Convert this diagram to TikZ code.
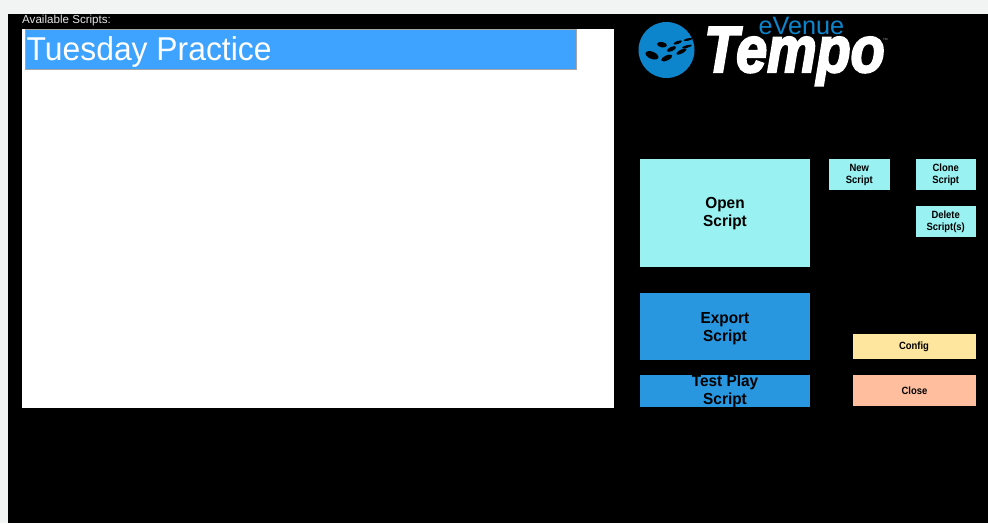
\documentclass[tikz,border=0pt]{standalone}
\usepackage{fontspec}
\setmainfont{Liberation Sans}
\newfontfamily\btnfont[FakeStretch=0.96]{Liberation Sans}
\newfontfamily\smallfont[FakeStretch=0.9]{Liberation Sans}
\newfontfamily\tuefont[FakeStretch=0.965]{Liberation Sans}
\newfontfamily\tempofont[BoldItalicFeatures={FakeBold=3.5}]{Liberation Sans}
\begin{document}
\begin{tikzpicture}[x=1pt,y=-1pt,
  box/.style={anchor=north west,inner sep=0pt,outer sep=0pt},
  bigt/.style={inner sep=0pt,align=center,text=black,font=\btnfont\fontsize{16}{18}\selectfont\bfseries},
  smallt/.style={inner sep=0pt,align=center,text=black,font=\smallfont\fontsize{10.5}{12}\selectfont\bfseries}]
\definecolor{aqua}{HTML}{99F1F1}
\definecolor{blueb}{HTML}{2997E0}
\definecolor{selb}{HTML}{3EA2FF}
\definecolor{yel}{HTML}{FFE69E}
\definecolor{sal}{HTML}{FFBF9F}
\definecolor{logob}{HTML}{0C85CC}
\definecolor{band}{HTML}{F2F4F4}
\useasboundingbox (0,0) rectangle (988,523);
\fill[white] (0,0) rectangle (988,523);
\fill[black] (8,0) rectangle (988,523);
\node[anchor=base west,inner sep=0pt,text=white!90!black,font=\fontsize{11.6}{14}\selectfont] (lbl) at (22,23) {Available Scripts:};
\fill[band] (0,0) rectangle (988,14);
\fill[band] (0,0) rectangle (8,523);
\node[box,fill=white,minimum width=592pt,minimum height=379pt] (list) at (22,29) {};
\node[box,fill=selb,draw=gray!70,line width=.4pt,minimum width=551.5pt,minimum height=40pt] (sel) at (25,29.5) {};
\node[anchor=base west,inner sep=0pt,text=white,font=\tuefont\fontsize{33}{36}\selectfont] (tue) at (26.5,60) {Tuesday Practice};
% logo
\node[circle,fill=logob,inner sep=0pt,minimum size=56pt] (disc) at (666.5,50) {};
\begin{scope}
\clip (disc.center) circle (28);
\foreach \cx/\cy/\a/\b/\r in {652/55.3/6.8/3.6/-22, 662/44.7/5/2.7/-10, 666.7/58/6/2.5/25, 671.5/49/5/2.1/25, 681.5/51.5/5.8/1.9/28, 677.7/42.5/4.5/1.5/20, 687/46.5/5/1.3/15, 688/39.5/4.5/1.2/12}
  \fill[black] (\cx,\cy) ellipse[x radius=\a,y radius=\b,rotate=\r];
\end{scope}
\node[anchor=base west,inner sep=0pt,text=white,font=\tempofont\fontsize{58}{60}\selectfont\bfseries\itshape] (tempo) at (704,72) {\scalebox{.96}[1.12]{Tempo}};
\node[anchor=base west,inner sep=0pt,text=logob,font=\fontsize{25.2}{26}\selectfont] (evenue) at (758.5,34) {eVenue};
\node[anchor=west,inner sep=0pt,text=white!70!black,font=\fontsize{3}{4}\selectfont] (tm) at (883,39.5) {TM};
% buttons: filled box, then its text
\node[box,fill=aqua,minimum width=170pt,minimum height=107.5pt] (open) at (640,159) {};
\node[bigt] (opent) at (725,213.6) {Open\\Script};
\node[box,fill=blueb,minimum width=170pt,minimum height=67pt] (export) at (640,293) {};
\node[bigt] (exportt) at (725,328.6) {Export\\Script};
\node[box,fill=blueb,minimum width=170pt,minimum height=31.5pt] (test) at (640,375) {};
\node[bigt] (testt) at (725,391.2) {Test Play\\Script};
\node[box,fill=aqua,minimum width=60.5pt,minimum height=31pt] (new) at (829,159) {};
\node[smallt] (newt) at (859.3,175.4) {New\\Script};
\node[box,fill=aqua,minimum width=60.5pt,minimum height=31pt] (clone) at (915.5,159) {};
\node[smallt] (clonet) at (945.7,175) {Clone\\Script};
\node[box,fill=aqua,minimum width=60.5pt,minimum height=31pt] (delete) at (915.5,206) {};
\node[smallt] (deletet) at (945.7,222) {Delete\\Script(s)};
\node[box,fill=yel,minimum width=123pt,minimum height=25pt] (config) at (853,334) {};
\node[smallt] (configt) at (914,346.5) {Config};
\node[box,fill=sal,minimum width=123pt,minimum height=31pt] (close) at (853,375) {};
\node[smallt] (closet) at (914.5,390.5) {Close};
\end{tikzpicture}
\end{document}
